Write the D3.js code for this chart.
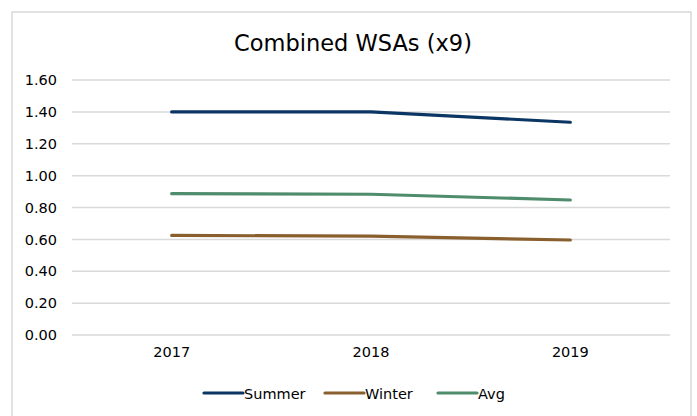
<!DOCTYPE html>
<html>
<head>
<meta charset="utf-8">
<script src="https://cdn.jsdelivr.net/npm/d3@7"></script>
<style>
html,body{margin:0;padding:0;background:#fff;}
svg{display:block;}
text{font-family:"DejaVu Sans",Verdana,sans-serif;fill:#000;}
</style>
</head>
<body>
<svg id="chart" width="697" height="416"></svg>
<script>
const years = ["2017", "2018", "2019"];
const summer = [1.40, 1.40, 1.335];
const winter = [0.625, 0.62, 0.596];
const avg = [0.887, 0.883, 0.847];
const seriesNames = ["Summer", "Winter", "Avg"];
const seriesColors = ["#0B3563", "#8A5F2E", "#4E8C6C"];
const yTicks = [0, 0.2, 0.4, 0.6, 0.8, 1.0, 1.2, 1.4, 1.6];
const title = "Combined WSAs (x9)";

const series = [summer, winter, avg];
const svg = d3.select("#chart");

svg.append("rect").attr("x", 12).attr("y", 12).attr("width", 679).attr("height", 420)
  .attr("fill", "#fff").attr("stroke", "#d9d9d9").attr("stroke-width", 1.5);

svg.append("text").attr("x", 353).attr("y", 51).attr("text-anchor", "middle")
  .style("font-size", "22.5px").text(title);

const x = d3.scaleBand().domain(years).range([72, 670]);
const y = d3.scaleLinear().domain([0, 1.6]).range([335, 80]);

const grid = svg.append("g");
grid.selectAll("line").data(yTicks).join("line")
  .attr("x1", 72).attr("x2", 670)
  .attr("y1", d => y(d)).attr("y2", d => y(d))
  .attr("stroke", "#d9d9d9").attr("stroke-width", 1.5);

const yAxis = svg.append("g").attr("transform", "translate(72,0)")
  .call(d3.axisLeft(y).tickValues(yTicks).tickFormat(d3.format(".2f")).tickSize(0).tickPadding(15));
yAxis.select(".domain").remove();
yAxis.selectAll("text").style("font-size", "14.5px").attr("fill", "#000");

const xAxis = svg.append("g").attr("transform", "translate(0,335)")
  .call(d3.axisBottom(x).tickSize(0).tickPadding(12));
xAxis.select(".domain").remove();
xAxis.selectAll("text").style("font-size", "14.5px").attr("fill", "#000");

const line = d3.line().x((d, i) => x(years[i]) + x.bandwidth() / 2).y(d => y(d));
svg.append("g").selectAll("path").data(series).join("path")
  .attr("d", d => line(d)).attr("fill", "none")
  .attr("stroke", (d, i) => seriesColors[i]).attr("stroke-width", 3.2)
  .attr("stroke-linecap", "round").attr("stroke-linejoin", "round");

const legendX = [204, 325, 438];
const lg = svg.append("g");
seriesNames.forEach((n, i) => {
  lg.append("line").attr("x1", legendX[i]).attr("x2", legendX[i] + 39)
    .attr("y1", 393).attr("y2", 393).attr("stroke", seriesColors[i])
    .attr("stroke-width", 3.2).attr("stroke-linecap", "round");
  lg.append("text").attr("x", legendX[i] + 40).attr("y", 399)
    .style("font-size", "14.5px").text(n);
});
</script>
</body>
</html>
